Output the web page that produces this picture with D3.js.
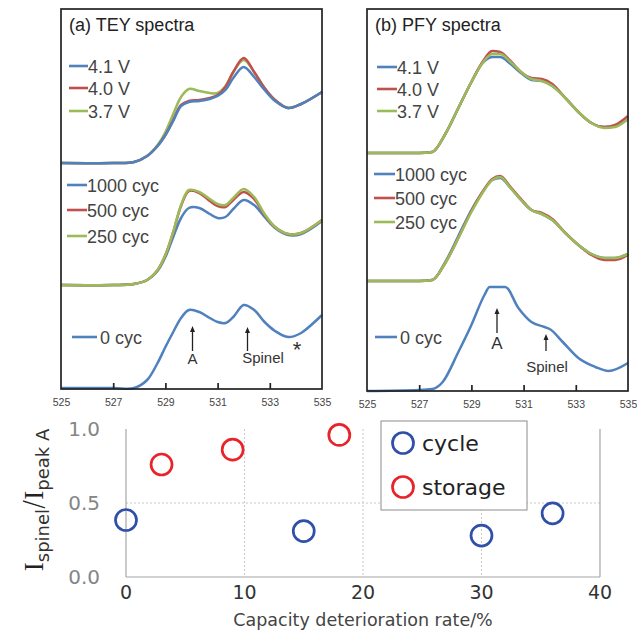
<!DOCTYPE html>
<html><head><meta charset="utf-8">
<script src="https://cdn.jsdelivr.net/npm/d3@7"></script>
<style>body{margin:0;background:#fff}svg{display:block}</style>
</head><body>
<script>
// ---------- DATA ----------
const energyTicks = [525, 527, 529, 531, 533, 535];
const colors = {blue: "#4f81bd", red: "#c0504d", green: "#9bbb59"};

// Panel (a) TEY
const eA = [525,527,527.8,528.3,528.7,529.0,529.3,529.6,529.9,530.3,530.7,531.0,531.3,531.6,532.0,532.4,532.8,533.2,533.7,534.2,535];
const teyV41 = [226,226,227,233,243,254,268,283,287,288,290,293,299,311,322,312,299,288,281,285,297];
const teyV40 = [226,226,227,233,243,254,269,284,288,289,291,294,302,317,331,317,301,289,281,285,297];
const teyV37 = [226,226,227,233,244,257,275,292,300,298,296,296,303,317,329,317,301,289,281,285,297];
const teyC1000 = [104,104,105,109,118,132,152,171,181,181,175,171,172,180,189,184,172,161,154,155,168];
const teyC500  = [104,104,105,109,119,134,157,183,198,196,188,183,182,189,197,190,174,162,155,156,169];
const teyC250  = [104,104,105,109,119,134,157,184,199,197,190,185,184,191,200,192,175,162,155,156,169];
const teyC0    = [1,1,1,9,26,42,57,71,79,77,71,67,66,72,84,79,67,58,52,56,74];

// Panel (b) PFY
const eB = [525,527,527.5,528.0,528.5,529.0,529.4,529.8,530.1,530.5,530.9,531.3,531.7,532.1,532.6,533.1,533.6,534.1,534.5,535];
const pfyV41 = [238,238,239,257,283,309,327,334,334,327,318,311,310,305,293,279,268,264,265,272];
const pfyV40 = [238,238,239,257,283,309,328,340,339,330,319,313,312,307,293,279,268,264,266,275];
const pfyV37 = [238,238,239,257,283,309,327,337,337,329,319,312,310,305,293,279,268,263,264,272];
const pfyC1000 = [110,110,111,129,155,181,198,211,213,203,191,181,177,171,158,146,137,133,133,137];
const pfyC500  = [110,110,111,128,153,180,198,212,215,204,192,181,178,172,158,146,136,131,131,136];
const pfyC250  = [110,110,111,128,153,179,197,211,214,203,191,181,177,171,158,146,137,133,133,137];
const eB0 = [525,527,527.5,527.9,528.5,529.0,529.5,529.7,530.3,530.8,531.3,531.8,532.0,532.5,533.1,533.75,534.25,535];
const pfyC0 = [0,1,2,9,39,66,96,104,104,83,69,64,62,49,33,24,20,28];

// Bottom scatter
const cycleX = [0, 15, 30, 36];
const cycleY = [0.385, 0.31, 0.28, 0.43];
const storageX = [3, 9, 18];
const storageY = [0.76, 0.86, 0.96];
const xTicks = [0, 10, 20, 30, 40];
const yTicks = [0.0, 0.5, 1.0];
const legendLabels = ["cycle", "storage"];

// ---------- DRAW ----------
const W = 637, H = 630;
const svg = d3.select("body").append("svg").attr("width", W).attr("height", H);
const sans = "'Liberation Sans', Arial, sans-serif";

function panel(opt) {
  const x = d3.scaleLinear().domain([525, 535]).range([opt.x0, opt.x1]);
  const y = d3.scaleLinear().domain([0, opt.yMax]).range([opt.y1, opt.y0]);
  const g = svg.append("g");
  const line = d3.line().x(d => x(d[0])).y(d => y(d[1])).curve(opt.curve);
  opt.series.forEach(s => {
    g.append("path").datum(s.e.map((e, i) => [e, s.v[i]]))
      .attr("d", line).attr("fill", "none").attr("stroke", s.c)
      .attr("stroke-width", 2.5).attr("stroke-linejoin", "round");
  });
  g.append("rect").attr("x", opt.x0).attr("y", opt.y0)
    .attr("width", opt.x1 - opt.x0).attr("height", opt.y1 - opt.y0)
    .attr("fill", "none").attr("stroke", "#222").attr("stroke-width", 1.7);
  const ax = d3.axisBottom(x).tickValues(energyTicks).tickSizeInner(-6).tickSizeOuter(0).tickPadding(10).tickFormat(d3.format("d"));
  const axg = g.append("g").attr("transform", `translate(0,${opt.y1})`).call(ax);
  axg.select(".domain").remove();
  axg.selectAll(".tick line").attr("stroke", "#222").attr("stroke-width", 1.7)
    .filter(d => d === 525 || d === 535).remove();
  axg.selectAll(".tick text").attr("font-family", sans).attr("font-size", 10.5).attr("fill", "#444");
  g.append("text").attr("x", opt.x0 + 8).attr("y", 31).text(opt.title)
    .attr("font-family", sans).attr("font-size", 18).attr("fill", "#222");
  opt.legends.forEach(L => {
    g.append("line").attr("x1", L.lx0).attr("x2", L.lx1).attr("y1", L.y).attr("y2", L.y)
      .attr("stroke", L.c).attr("stroke-width", 2.6);
    g.append("text").attr("x", L.tx).attr("y", L.y + 6.5).text(L.t)
      .attr("font-family", sans).attr("font-size", 18).attr("fill", "#444");
  });
  opt.arrows.forEach(a => {
    g.append("line").attr("x1", a.x).attr("x2", a.x).attr("y1", a.yb).attr("y2", a.yt + 4)
      .attr("stroke", "#222").attr("stroke-width", 1.3);
    g.append("path").attr("d", `M${a.x - 2.5},${a.yt + 6}L${a.x},${a.yt}L${a.x + 2.5},${a.yt + 6}Z`).attr("fill", "#222");
    g.append("text").attr("x", a.tx).attr("y", a.ty).attr("text-anchor", "middle").text(a.t)
      .attr("font-family", sans).attr("font-size", a.fs).attr("fill", "#333");
  });
  return g;
}

const gA = panel({
  x0: 61, x1: 322, y0: 9, y1: 389, yMax: 380, curve: d3.curveCatmullRom.alpha(0.5),
  title: "(a) TEY spectra",
  series: [
    {e: eA, v: teyV37, c: colors.green}, {e: eA, v: teyV40, c: colors.red}, {e: eA, v: teyV41, c: colors.blue},
    {e: eA, v: teyC1000, c: colors.blue}, {e: eA, v: teyC500, c: colors.red}, {e: eA, v: teyC250, c: colors.green},
    {e: eA, v: teyC0, c: colors.blue}
  ],
  legends: [
    {t: "4.1 V", c: colors.blue, y: 66, lx0: 69, lx1: 88, tx: 88},
    {t: "4.0 V", c: colors.red, y: 88, lx0: 69, lx1: 88, tx: 88},
    {t: "3.7 V", c: colors.green, y: 111, lx0: 69, lx1: 88, tx: 88},
    {t: "1000 cyc", c: colors.blue, y: 185, lx0: 67, lx1: 87, tx: 87},
    {t: "500 cyc", c: colors.red, y: 210, lx0: 67, lx1: 87, tx: 87},
    {t: "250 cyc", c: colors.green, y: 236, lx0: 67, lx1: 87, tx: 87},
    {t: "0 cyc", c: colors.blue, y: 337, lx0: 72, lx1: 97, tx: 100}
  ],
  arrows: [
    {x: 192.5, yt: 326, yb: 351, t: "A", tx: 192.5, ty: 364, fs: 15},
    {x: 247.5, yt: 327, yb: 351, t: "Spinel", tx: 263, ty: 363, fs: 15}
  ]
});
gA.append("text").attr("x", 297).attr("y", 357).attr("text-anchor", "middle").text("*")
  .attr("font-family", sans).attr("font-size", 22).attr("fill", "#333");

panel({
  x0: 367, x1: 628, y0: 9, y1: 391, yMax: 382, curve: d3.curveMonotoneX,
  title: "(b) PFY spectra",
  series: [
    {e: eB, v: pfyV41, c: colors.blue}, {e: eB, v: pfyV40, c: colors.red}, {e: eB, v: pfyV37, c: colors.green},
    {e: eB, v: pfyC1000, c: colors.blue}, {e: eB, v: pfyC500, c: colors.red}, {e: eB, v: pfyC250, c: colors.green},
    {e: eB0, v: pfyC0, c: colors.blue}
  ],
  legends: [
    {t: "4.1 V", c: colors.blue, y: 67, lx0: 377, lx1: 397, tx: 397},
    {t: "4.0 V", c: colors.red, y: 89, lx0: 377, lx1: 397, tx: 397},
    {t: "3.7 V", c: colors.green, y: 111, lx0: 377, lx1: 397, tx: 397},
    {t: "1000 cyc", c: colors.blue, y: 174, lx0: 374, lx1: 395, tx: 395},
    {t: "500 cyc", c: colors.red, y: 198, lx0: 374, lx1: 395, tx: 395},
    {t: "250 cyc", c: colors.green, y: 222, lx0: 374, lx1: 395, tx: 395},
    {t: "0 cyc", c: colors.blue, y: 337, lx0: 375, lx1: 397, tx: 400}
  ],
  arrows: [
    {x: 497, yt: 308, yb: 333, t: "A", tx: 497, ty: 349, fs: 17},
    {x: 546, yt: 334, yb: 351, t: "Spinel", tx: 547, ty: 372, fs: 15}
  ]
});

// ---------- Bottom scatter ----------
const sx = d3.scaleLinear().domain([0, 40]).range([126, 600]);
const sy = d3.scaleLinear().domain([0, 1]).range([577, 429]);
const verd = "'DejaVu Sans', Verdana, sans-serif";
const gs = svg.append("g");
gs.selectAll(".vg").data([10, 20, 30]).enter().append("line")
  .attr("x1", d => sx(d)).attr("x2", d => sx(d)).attr("y1", sy(1)).attr("y2", sy(0))
  .attr("stroke", "#c8c8c8").attr("stroke-dasharray", "2,2");
gs.append("line").attr("x1", sx(0)).attr("x2", sx(40)).attr("y1", sy(0.5)).attr("y2", sy(0.5))
  .attr("stroke", "#c8c8c8").attr("stroke-dasharray", "2,2");
gs.append("line").attr("x1", sx(0)).attr("x2", sx(0)).attr("y1", sy(1)).attr("y2", sy(0)).attr("stroke", "#a6a6a6").attr("stroke-width", 1.2);
gs.append("line").attr("x1", sx(40)).attr("x2", sx(40)).attr("y1", sy(1)).attr("y2", sy(0)).attr("stroke", "#a6a6a6").attr("stroke-width", 1.2);
gs.append("line").attr("x1", sx(0)).attr("x2", sx(40)).attr("y1", sy(0)).attr("y2", sy(0)).attr("stroke", "#a6a6a6").attr("stroke-width", 1.2);
gs.selectAll(".xt").data(xTicks).enter().append("text")
  .attr("x", d => sx(d)).attr("y", 599).attr("text-anchor", "middle").text(d => d)
  .attr("font-family", verd).attr("font-size", 19).attr("fill", "#333");
gs.selectAll(".yt").data(yTicks).enter().append("text")
  .attr("x", 100).attr("y", d => sy(d) + 7).attr("text-anchor", "end").text(d => d.toFixed(1))
  .attr("font-family", verd).attr("font-size", 20).attr("fill", "#858585");
gs.append("text").attr("x", 363).attr("y", 626).attr("text-anchor", "middle")
  .text("Capacity deterioration rate/%").attr("font-family", verd).attr("font-size", 17.5).attr("fill", "#444");
const yl = gs.append("text").attr("transform", "translate(43,500) rotate(-90)").attr("text-anchor", "middle")
  .attr("font-family", "'Liberation Serif', 'Times New Roman', serif").attr("fill", "#222");
yl.append("tspan").attr("font-size", 27).text("I");
yl.append("tspan").attr("font-size", 18).attr("dy", 6).attr("font-family", verd).attr("fill", "#333").text("spinel");
yl.append("tspan").attr("font-size", 27).attr("dy", -6).attr("font-family", verd).attr("font-weight", "300").text("/");
yl.append("tspan").attr("font-size", 27).text("I");
yl.append("tspan").attr("font-size", 18).attr("dy", 6).attr("font-family", verd).attr("fill", "#333").text("peak A");
const cBlue = "#2f4fa8", cRed = "#e8232a";
gs.selectAll(".cy").data(cycleX.map((x, i) => [x, cycleY[i]])).enter().append("circle")
  .attr("cx", d => sx(d[0])).attr("cy", d => sy(d[1])).attr("r", 10.5)
  .attr("fill", "none").attr("stroke", cBlue).attr("stroke-width", 2.7);
gs.selectAll(".st").data(storageX.map((x, i) => [x, storageY[i]])).enter().append("circle")
  .attr("cx", d => sx(d[0])).attr("cy", d => sy(d[1])).attr("r", 10.5)
  .attr("fill", "none").attr("stroke", cRed).attr("stroke-width", 2.7);
gs.append("rect").attr("x", 381).attr("y", 421).attr("width", 146).attr("height", 89)
  .attr("fill", "#fff").attr("stroke", "#8c8c8c").attr("stroke-width", 1);
legendLabels.forEach((t, i) => {
  const yy = 443 + i * 44;
  gs.append("circle").attr("cx", 403).attr("cy", yy).attr("r", 10.5).attr("fill", "none")
    .attr("stroke", i === 0 ? cBlue : cRed).attr("stroke-width", 2.7);
  gs.append("text").attr("x", 422).attr("y", yy + 8).text(t)
    .attr("font-family", verd).attr("font-size", 22).attr("fill", "#222");
});
</script>
</body></html>
